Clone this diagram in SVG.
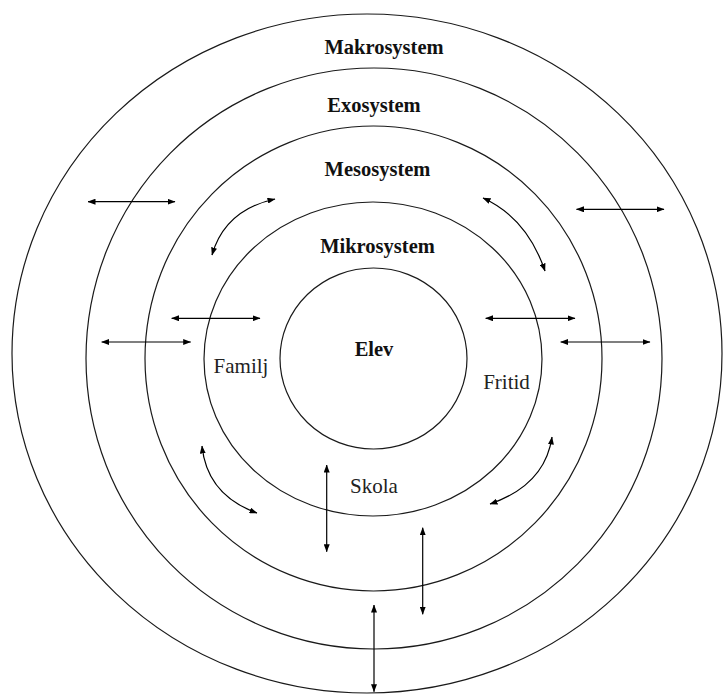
<svg xmlns="http://www.w3.org/2000/svg" width="726" height="695" viewBox="0 0 726 695">
<style>
.ring{fill:none;stroke:#1a1a1a;stroke-width:1.2}
.arr{fill:none;stroke:#000;stroke-width:1.2;marker-start:url(#ah);marker-end:url(#ah)}
.b{font-family:"Liberation Serif","Times New Roman",serif;font-weight:bold;font-size:20.5px;fill:#111;text-anchor:middle}
.r{font-family:"Liberation Serif","Times New Roman",serif;font-size:21px;fill:#222;text-anchor:middle}
</style>
<defs>
<marker id="ah" viewBox="0 0 8 6" refX="7.5" refY="3" markerWidth="8" markerHeight="6" markerUnits="userSpaceOnUse" orient="auto-start-reverse">
<path d="M0,0 L8,3 L0,6 z" fill="#000"/>
</marker>
</defs>
<rect width="726" height="695" fill="#fff"/>
<g id="makrosystem">
<ellipse class="ring" cx="367" cy="353.5" rx="355" ry="339.5"/>
<text class="b" x="384" y="54">Makrosystem</text>
</g>
<g id="exosystem">
<ellipse class="ring" cx="374" cy="358.5" rx="288" ry="290.5"/>
<text class="b" x="374" y="112">Exosystem</text>
</g>
<g id="mesosystem">
<ellipse class="ring" cx="373.5" cy="358.5" rx="228.5" ry="232.5"/>
<text class="b" x="377.5" y="176">Mesosystem</text>
</g>
<g id="mikrosystem">
<ellipse class="ring" cx="373" cy="359" rx="169" ry="157"/>
<text class="b" x="377.5" y="253">Mikrosystem</text>
</g>
<g id="elev">
<ellipse class="ring" cx="373.5" cy="358.5" rx="93.5" ry="90.5"/>
<text class="b" x="374" y="356">Elev</text>
</g>
<g id="familj"><text class="r" x="241" y="373">Familj</text></g>
<g id="fritid"><text class="r" x="506.5" y="389">Fritid</text></g>
<g id="skola"><text class="r" x="374" y="493">Skola</text></g>
<g id="connectors">
<line class="arr" x1="88" y1="201.7" x2="175" y2="201.7"/>
<line class="arr" x1="576.5" y1="209.3" x2="664" y2="209.3"/>
<line class="arr" x1="171.7" y1="318.3" x2="260" y2="318.3"/>
<line class="arr" x1="101.7" y1="342" x2="190.7" y2="342"/>
<line class="arr" x1="485.7" y1="318.3" x2="575" y2="318.3"/>
<line class="arr" x1="560.7" y1="342" x2="650" y2="342"/>
<line class="arr" x1="326.7" y1="465" x2="326.7" y2="551.7"/>
<line class="arr" x1="422.7" y1="527.7" x2="422.7" y2="614.3"/>
<line class="arr" x1="374" y1="605" x2="374" y2="691.7"/>
<path class="arr" d="M212,255 Q225,210 275,199"/>
<path class="arr" d="M483,198 Q527,218 545,271"/>
<path class="arr" d="M202,446 Q207,495 257,513"/>
<path class="arr" d="M552,437 Q545,485 490,504"/>
</g>
</svg>
